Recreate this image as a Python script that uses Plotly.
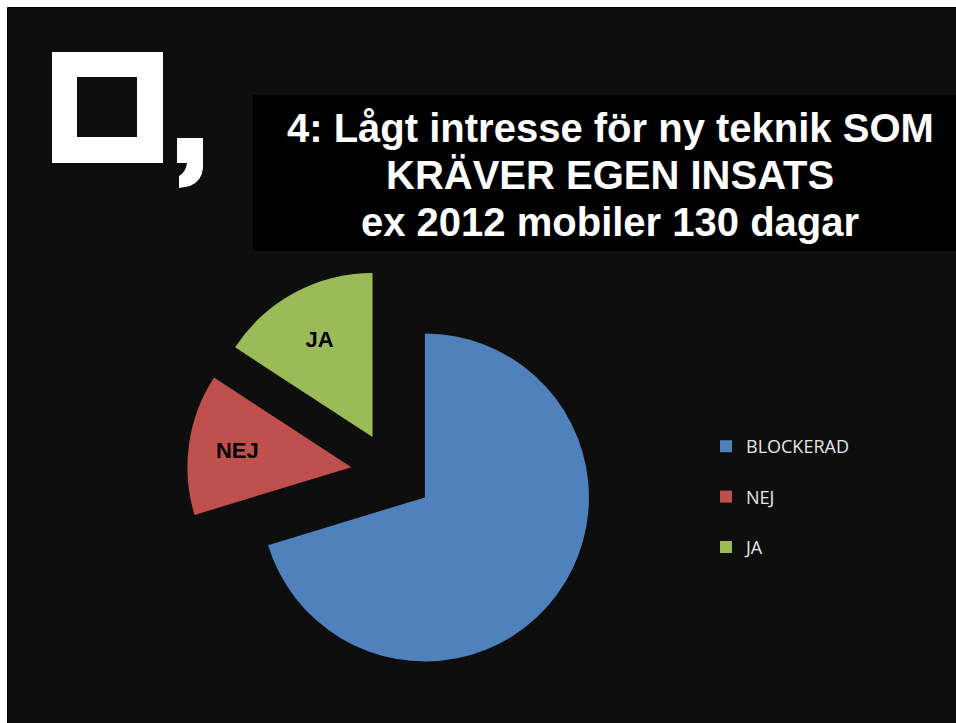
import plotly.graph_objects as go

# ---- data ----
categories = ["BLOCKERAD", "NEJ", "JA"]
values = [70.3, 13.9, 15.8]
slice_text = ["", "NEJ", "JA"]
colors = ["#4f81bd", "#c0504d", "#9bbb59"]
title_lines = [
    "4: Lågt intresse för ny teknik SOM",
    "KRÄVER EGEN INSATS",
    "ex 2012 mobiler 130 dagar",
]

W, H = 956, 723
BG = "#0e0e0e"

fig = go.Figure()

# pie domain (screen px) -> paper fractions
cx, cy, ext = 392, 473, 205
fig.add_trace(go.Pie(
    labels=categories,
    values=values,
    text=slice_text,
    textinfo="text",
    textposition="inside",
    insidetextorientation="horizontal",
    textfont=dict(family="Liberation Sans", size=22, color="black", weight=700),
    marker=dict(colors=colors, line=dict(width=0)),
    sort=False,
    direction="clockwise",
    rotation=0,
    pull=[0.25, 0.25, 0.25],
    showlegend=False,
    hoverinfo="skip",
    domain=dict(x=[(cx - ext) / W, (cx + ext) / W],
                y=[(H - cy - ext) / H, (H - cy + ext) / H]),
))

for cat, col in zip(categories, colors):
    fig.add_trace(go.Scatter(
        x=[None], y=[None], mode="markers", name=cat, legendgroup=cat,
        marker=dict(symbol="square", size=12, color=col),
        showlegend=True, hoverinfo="skip",
    ))

shapes = [
    # slide background with thin black edge
    dict(type="rect", x0=7.5, x1=W + 20, y0=7.5, y1=H + 20,
         fillcolor=BG, line=dict(width=1, color="#000000"), layer="below"),
    # title box
    dict(type="rect", x0=253, x1=W + 10, y0=95, y1=251,
         fillcolor="#000000", line=dict(width=0), layer="below"),
    # logo frame
    dict(type="rect", x0=52, x1=163, y0=52, y1=163,
         fillcolor="#ffffff", line=dict(width=0), layer="below"),
    dict(type="rect", x0=77, x1=137, y0=77, y1=137,
         fillcolor=BG, line=dict(width=0), layer="below"),
    # logo comma
    dict(type="path",
         path=("M 177,138 L 203,138 L 203,168 Q 202,181 190,186 L 179,188 "
               "L 179,176 Q 186,172 187,163 L 177,163 Z"),
         fillcolor="#ffffff", line=dict(width=0), layer="below"),
]

annotations = []
for i, line in enumerate(title_lines):
    annotations.append(dict(
        x=610, y=127.5 + 47 * i, xref="x", yref="y",
        text=line, showarrow=False, xanchor="center", yanchor="middle",
        font=dict(family="Liberation Sans", size=40, color="white", weight=700),
    ))

fig.update_layout(
    width=W, height=H,
    margin=dict(l=0, r=0, t=0, b=0),
    paper_bgcolor="#ffffff",
    plot_bgcolor="rgba(0,0,0,0)",
    xaxis=dict(range=[0, W], visible=False, domain=[0, 1], fixedrange=True),
    yaxis=dict(range=[H, 0], visible=False, domain=[0, 1], fixedrange=True),
    shapes=shapes,
    annotations=annotations,
    legend=dict(
        x=706 / W, y=(H - 428) / H, xanchor="left", yanchor="top",
        bgcolor="rgba(0,0,0,0)", tracegroupgap=24, itemsizing="constant",
        font=dict(family="Open Sans", size=18, color="#e6e6e6"),
    ),
    showlegend=True,
)

fig.write_html(
    "out.html",
    config={"displayModeBar": False},
    post_script=(
        "document.body.style.margin='0';"
        "document.body.style.padding='0';"
        "document.documentElement.style.overflow='hidden';"
        "document.body.style.overflow='hidden';"
    ),
)
